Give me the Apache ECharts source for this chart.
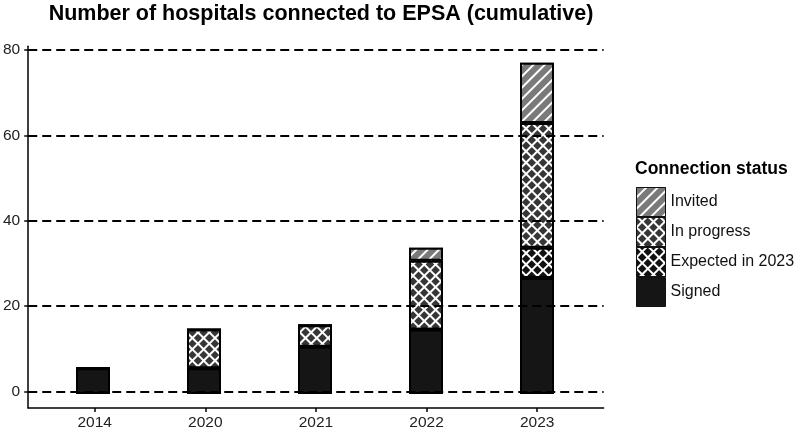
<!DOCTYPE html>
<html>
<head>
<meta charset="utf-8">
<script src="https://cdn.jsdelivr.net/npm/echarts@6/dist/echarts.min.js"></script>
<style>html,body{margin:0;padding:0;background:#fff}#c{width:800px;height:431px}</style>
</head>
<body>
<div id="c"></div>
<script>
var categories = ['2014', '2020', '2021', '2022', '2023'];
var signed = [6, 6, 11, 15, 27];
var expected2023 = [0, 0, 0, 0, 7];
var inProgress = [0, 9, 5, 16, 29];
var invited = [0, 0, 0, 3, 14];
var yTicks = [0, 20, 40, 60, 80];
var chartTitle = 'Number of hospitals connected to EPSA (cumulative)';
var legendTitle = 'Connection status';
var seriesNames = ['Signed', 'Expected in 2023', 'In progress', 'Invited'];

var xPos = categories.map(function (c, i) { return i + 1; });

var lattice = function (fg) {
  return { symbol: 'rect', symbolSize: 1, dashArrayX: [6, 2], dashArrayY: [6, 2],
           rotation: Math.PI / 4, color: fg, backgroundColor: '#ffffff' };
};
var stripes = { symbol: 'rect', symbolSize: 1, dashArrayX: [1, 0], dashArrayY: [6, 2],
                rotation: -Math.PI / 4, color: '#7a7a7a', backgroundColor: '#ffffff' };

var styles = [
  { color: '#151515', borderColor: '#000', borderWidth: 2 },
  { color: '#111111', borderColor: '#000', borderWidth: 2, decal: lattice('#111111') },
  { color: '#363636', borderColor: '#000', borderWidth: 2, decal: lattice('#363636') },
  { color: '#7a7a7a', borderColor: '#000', borderWidth: 2, decal: stripes }
];
var dataSets = [signed, expected2023, inProgress, invited];

var series = dataSets.map(function (arr, k) {
  return {
    name: seriesNames[k], type: 'bar', stack: 'total', barWidth: 34, z: 3,
    xAxisIndex: 1, yAxisIndex: 1,
    itemStyle: styles[k], data: arr
  };
});
series.push({
  type: 'line', data: [], z: 1, silent: true, xAxisIndex: 0, yAxisIndex: 0,
  markLine: {
    silent: true, symbol: ['none', 'none'], label: { show: false },
    lineStyle: { color: '#000', type: [9, 5], width: 2 },
    data: yTicks.map(function (v) { return { yAxis: v }; })
  }
});

var FONT = 'Liberation Sans';
var yMin = -3.85, yMax = 80.85;
var chart = echarts.init(document.getElementById('c'), null, { renderer: 'canvas' });
chart.setOption({
  animation: false,
  aria: { enabled: false },
  title: [
    { text: chartTitle, left: 316, textAlign: 'center', top: -2,
      textStyle: { fontFamily: FONT, fontWeight: 'bold', fontSize: 21.5, color: '#000' } },
    { text: legendTitle, left: 630, top: 155,
      textStyle: { fontFamily: FONT, fontWeight: 'bold', fontSize: 17.5, color: '#000' } }
  ],
  legend: {
    data: ['Invited', 'In progress', 'Expected in 2023', 'Signed'],
    orient: 'vertical', left: 631, top: 182, itemWidth: 29, itemHeight: 29, itemGap: 0,
    icon: 'rect',
    itemStyle: { borderWidth: 1, borderColor: '#111' },
    textStyle: { fontFamily: FONT, fontSize: 16, color: '#111', padding: [0, 0, 0, 0] },
    selectedMode: false
  },
  grid: [
    { left: 26.4, right: 196.4, top: 46.3, bottom: 20.4, containLabel: false },
    { left: 37.5, right: 207.5, top: 46.3, bottom: 20.4, containLabel: false }
  ],
  xAxis: [{
    gridIndex: 0, type: 'value', min: 0.4, max: 5.6,
    axisLine: { show: true, onZero: false, lineStyle: { color: '#000', width: 1.5 } },
    axisTick: { show: true, customValues: xPos, length: 4, lineStyle: { color: '#000', width: 1.5 } },
    axisLabel: { customValues: xPos, margin: 7, color: '#222', fontFamily: FONT, fontSize: 15.5,
      formatter: function (v) { return categories[Math.round(v) - 1] || ''; } },
    splitLine: { show: false }
  }, {
    gridIndex: 1, type: 'category', data: categories, boundaryGap: true,
    axisLine: { show: false }, axisTick: { show: false }, axisLabel: { show: false }, splitLine: { show: false }
  }],
  yAxis: [{
    gridIndex: 0, type: 'value', min: yMin, max: yMax,
    axisLine: { show: true, onZero: false, lineStyle: { color: '#000', width: 1.5 } },
    axisTick: { show: true, customValues: yTicks, length: 4, lineStyle: { color: '#000', width: 1.5 } },
    axisLabel: { customValues: yTicks, margin: 8, color: '#222', fontFamily: FONT, fontSize: 15.5 },
    splitLine: { show: false }
  }, {
    gridIndex: 1, type: 'value', min: yMin, max: yMax,
    axisLine: { show: false }, axisTick: { show: false }, axisLabel: { show: false }, splitLine: { show: false }
  }],
  series: series
});
</script>
</body>
</html>
